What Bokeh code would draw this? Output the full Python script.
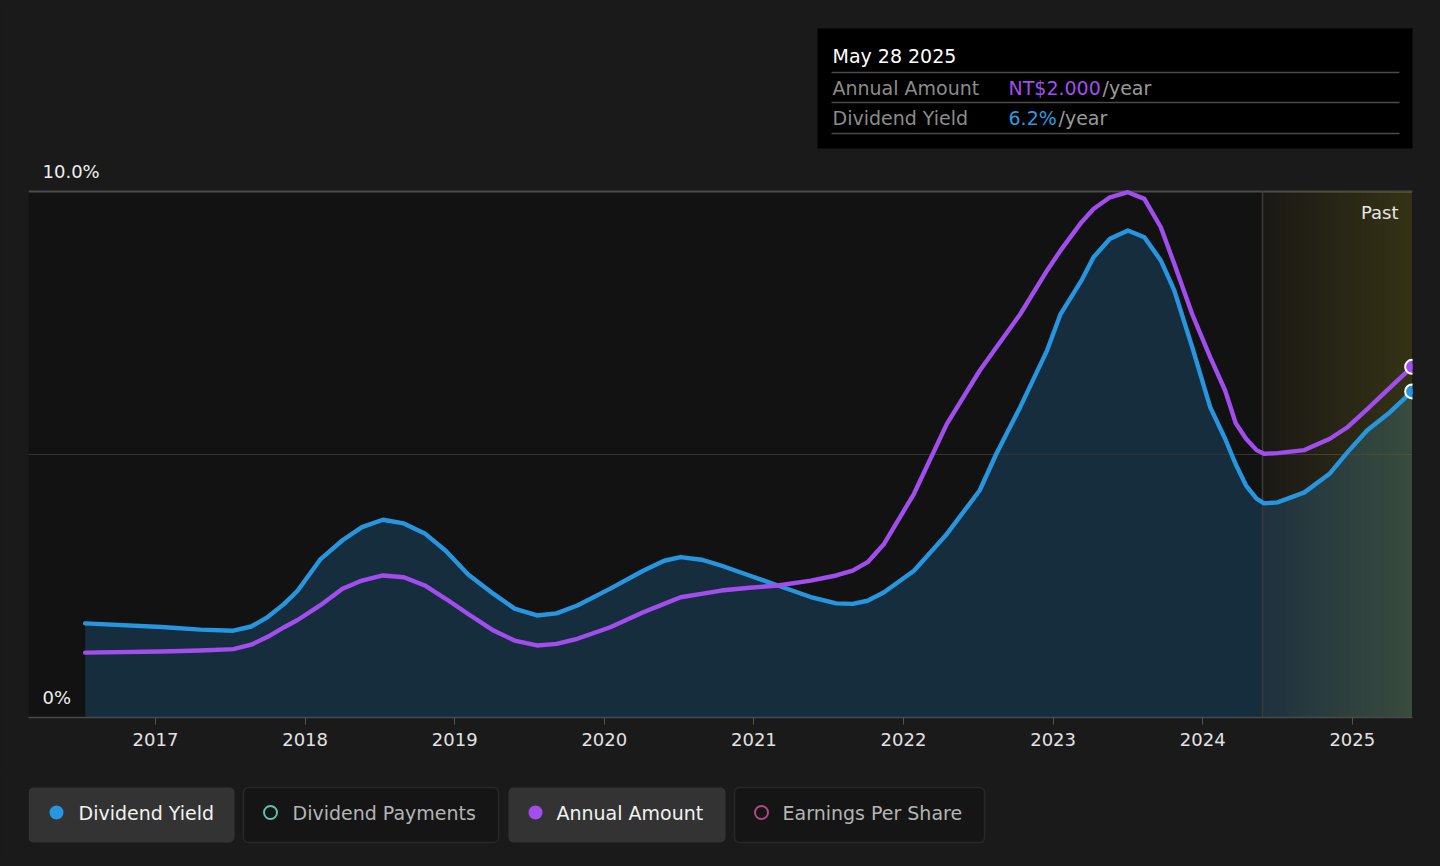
from bokeh.plotting import figure
from bokeh.models import Range1d, FixedTicker, Label, BoxAnnotation, ColumnDataSource
from bokeh.layouts import column
from bokeh.embed import file_html
from bokeh.resources import INLINE

# ---------------- data ----------------
years = [2016.53, 2017.04, 2017.30, 2017.52, 2017.64, 2017.75, 2017.86, 2017.95, 2018.10, 2018.25,
         2018.38, 2018.52, 2018.66, 2018.80, 2018.94, 2019.09, 2019.26, 2019.40, 2019.55, 2019.68,
         2019.82, 2020.04, 2020.26, 2020.40, 2020.51, 2020.65, 2020.78, 2020.97, 2021.16, 2021.38,
         2021.55, 2021.66, 2021.76, 2021.87, 2022.07, 2022.29, 2022.51, 2022.62, 2022.78, 2022.96,
         2023.05, 2023.19, 2023.27, 2023.38, 2023.50, 2023.61, 2023.72, 2023.81, 2023.93, 2024.05,
         2024.15, 2024.22, 2024.29, 2024.36, 2024.41, 2024.50, 2024.68, 2024.85, 2024.97, 2025.10,
         2025.25, 2025.40]
dividend_yield = [1.79, 1.72, 1.67, 1.65, 1.73, 1.91, 2.16, 2.41, 3.00, 3.37,
                  3.62, 3.76, 3.69, 3.50, 3.17, 2.72, 2.35, 2.07, 1.94, 1.98,
                  2.13, 2.45, 2.79, 2.98, 3.05, 3.00, 2.89, 2.70, 2.51, 2.29,
                  2.17, 2.16, 2.22, 2.38, 2.79, 3.49, 4.32, 5.01, 5.90, 6.98,
                  7.67, 8.31, 8.75, 9.10, 9.26, 9.13, 8.69, 8.12, 7.04, 5.90,
                  5.30, 4.82, 4.41, 4.16, 4.07, 4.09, 4.28, 4.64, 5.05, 5.46,
                  5.80, 6.20]
annual_amount = [0.370, 0.376, 0.382, 0.390, 0.415, 0.460, 0.515, 0.556, 0.639, 0.734,
                 0.781, 0.810, 0.800, 0.753, 0.677, 0.590, 0.496, 0.439, 0.411, 0.420,
                 0.449, 0.515, 0.600, 0.648, 0.686, 0.705, 0.724, 0.740, 0.753, 0.781,
                 0.810, 0.838, 0.886, 0.990, 1.276, 1.675, 1.979, 2.110, 2.300, 2.550,
                 2.664, 2.825, 2.900, 2.967, 2.996, 2.958, 2.796, 2.588, 2.300, 2.055,
                 1.865, 1.680, 1.590, 1.525, 1.504, 1.508, 1.525, 1.590, 1.657, 1.759,
                 1.880, 2.000]
tick_years = [2017, 2018, 2019, 2020, 2021, 2022, 2023, 2024, 2025]
y_tick_labels = ["0%", "10.0%"]
legend_labels = ["Dividend Yield", "Dividend Payments", "Annual Amount", "Earnings Per Share"]
tooltip_date = "May 28 2025"
tooltip_keys = ["Annual Amount", "Dividend Yield"]
past_label = "Past"

# ---------------- style ----------------
FONT = "DejaVu Sans"
PAGE_BG = "#1a1a1a"
PLOT_BG = "#121212"
BLUE = "#2796e0"
PURPLE = "#a24ded"
TEAL = "#5fc2ad"
PINK = "#b04a82"
GOLD = "#a2844a"

# pixel geometry of the reference (page pixels, canvas at page origin)
W = 1440
FL, FR = 28, 1412          # frame left/right
FT = 20                    # frame top
Y0PX, PPP = 717, 52.6      # 0% baseline, px per percent
PPY = 149.6                # px per year
XS = 2017 - (155 - FL) / PPY
XE = XS + (FR - FL) / PPY
YMAX = 10.0
Y_END = (Y0PX - FT) / PPP
AMOUNT_MAX = 3.0           # annual amount that reaches the 10% line
H_MAIN = 770
H_LEG = 92


def px2x(px):
    return XS + (px - FL) / PPY


def py2y(py):
    return (Y0PX - py) / PPP


p = figure(width=W, height=H_MAIN, output_backend="svg", toolbar_location=None,
           x_range=Range1d(XS, XE), y_range=Range1d(0, Y_END),
           min_border_left=FL, min_border_right=W - FR,
           min_border_top=FT, min_border_bottom=H_MAIN - Y0PX)
p.extra_y_ranges = {"amount": Range1d(0, AMOUNT_MAX * Y_END / YMAX)}
p.background_fill_color = PAGE_BG
p.border_fill_color = PAGE_BG
p.outline_line_color = None
p.xgrid.visible = False
p.ygrid.visible = False
p.yaxis.visible = False

xa = p.xaxis[0]
xa.ticker = FixedTicker(ticks=tick_years)
xa.axis_line_color = "#4a4a4a"
xa.axis_line_width = 1.5
xa.major_tick_line_color = "#555555"
xa.major_tick_out = 7
xa.major_tick_in = 0
xa.minor_tick_line_color = None
xa.major_label_text_font = FONT
xa.major_label_text_font_size = "18px"
xa.major_label_text_color = "#e2e2e2"
xa.major_label_standoff = 8

# plot area background
p.quad(left=[XS], right=[XE], bottom=[0], top=[YMAX], fill_color=PLOT_BG, line_color=None)

src = ColumnDataSource(dict(x=years, dy=dividend_yield, aa=annual_amount))

# blue area
p.varea(x="x", y1=0, y2="dy", source=src, fill_color="#1f5f8e", fill_alpha=0.36)

# gridlines
p.hspan(y=[YMAX / 2], line_color="#333333", line_width=1.2)
p.hspan(y=[YMAX], line_color="#4a4a4a", line_width=1.8)

# past region (one year before the last date)
last_x = years[-1]
past_start = last_x - 1.0
p.quad(left=[past_start], right=[XE], bottom=[0], top=[YMAX], fill_color=GOLD,
       fill_alpha=0.07, line_color=None)
n = 26
lefts = [past_start + (XE - past_start) * k / n for k in range(1, n)]
p.quad(left=lefts, right=[XE] * len(lefts), bottom=[0] * len(lefts), top=[YMAX] * len(lefts),
       fill_color=GOLD, fill_alpha=0.011, line_color=None)
p.segment(x0=[past_start], y0=[0], x1=[past_start], y1=[YMAX], line_color="#3c3a36", line_width=1.5)

# lines
p.line(x="x", y="dy", source=src, line_color=BLUE, line_width=4.4, line_join="round", line_cap="round")
p.line(x="x", y="aa", source=src, line_color=PURPLE, line_width=4.4, line_join="round",
       line_cap="round", y_range_name="amount")
p.scatter(x=[years[-1]], y=[annual_amount[-1]], size=14, fill_color=PURPLE, line_color="white",
          line_width=2, y_range_name="amount")
p.scatter(x=[years[-1]], y=[dividend_yield[-1]], size=14, fill_color=BLUE, line_color="white",
          line_width=2)

# y labels and "Past"
p.add_layout(Label(x=px2x(42), y=py2y(171), text=y_tick_labels[1], text_font=FONT,
                   text_font_size="18px", text_color="#eeeeee", text_baseline="middle"))
p.add_layout(Label(x=px2x(42), y=py2y(697), text=y_tick_labels[0], text_font=FONT,
                   text_font_size="18px", text_color="#eeeeee", text_baseline="middle"))
p.add_layout(Label(x=px2x(1398), y=py2y(212), text=past_label, text_font=FONT,
                   text_font_size="18px", text_color="#e6e6e6", text_baseline="middle",
                   text_align="right"))

# tooltip box
p.add_layout(BoxAnnotation(left=px2x(817), right=px2x(1413), top=py2y(28), bottom=py2y(148),
                           fill_color="#000000", fill_alpha=1.0, line_color=None))
for sy in (72, 102, 133):
    p.add_layout(BoxAnnotation(left=px2x(831), right=px2x(1399), top=py2y(sy - 0.8),
                               bottom=py2y(sy + 0.8), fill_color="#4a4a4a", fill_alpha=1.0,
                               line_color=None))
TT = dict(text_font=FONT, text_font_size="19px", text_baseline="middle")
p.add_layout(Label(x=px2x(832), y=py2y(55), text=tooltip_date, text_color="#ffffff", **TT))
p.add_layout(Label(x=px2x(832), y=py2y(87), text=tooltip_keys[0], text_color="#8c8c8c", **TT))
p.add_layout(Label(x=px2x(832), y=py2y(117), text=tooltip_keys[1], text_color="#8c8c8c", **TT))
p.add_layout(Label(x=px2x(1008), y=py2y(87), text=f"NT${annual_amount[-1]:.3f}", text_color=PURPLE, **TT))
p.add_layout(Label(x=px2x(1102), y=py2y(87), text="/year", text_color="#9a9a9a", **TT))
p.add_layout(Label(x=px2x(1008), y=py2y(117), text=f"{dividend_yield[-1]:.1f}%", text_color="#2d9be0", **TT))
p.add_layout(Label(x=px2x(1058), y=py2y(117), text="/year", text_color="#9a9a9a", **TT))

# ---------------- legend row (page-pixel coordinates) ----------------
lg = figure(width=W, height=H_LEG, output_backend="svg", toolbar_location=None,
            x_range=Range1d(FL, FR), y_range=Range1d(H_MAIN + H_LEG, H_MAIN),
            min_border_left=FL, min_border_right=W - FR, min_border_top=0, min_border_bottom=0)
lg.background_fill_color = PAGE_BG
lg.border_fill_color = PAGE_BG
lg.outline_line_color = None
lg.axis.visible = False
lg.grid.visible = False

pill_l = [28, 243, 508, 734]
pill_r = [234, 498, 725, 984]
pill_active = [True, False, True, False]
pill_color = [BLUE, TEAL, PURPLE, PINK]
dot_x = [56, 270, 535, 761]
text_x = [78, 292, 556, 782]
for i, lab in enumerate(legend_labels):
    act = pill_active[i]
    lg.add_layout(BoxAnnotation(left=pill_l[i], right=pill_r[i], top=787, bottom=842,
                                fill_color="#333333" if act else "#151515", fill_alpha=1.0,
                                line_color=None if act else "#4e4e4e", line_width=1.5,
                                border_radius=5, level="underlay"))
    if act:
        lg.scatter(x=[dot_x[i]], y=[812], size=14, fill_color=pill_color[i], line_color=None)
    else:
        lg.scatter(x=[dot_x[i]], y=[812], size=13, fill_color=None, line_color=pill_color[i],
                   line_width=2)
    lg.add_layout(Label(x=text_x[i], y=812, text=lab, text_font=FONT, text_font_size="19px",
                        text_color="#f2f2f2" if act else "#b4b4b4", text_baseline="middle"))

layout = column(p, lg, spacing=0)
html = file_html(layout, INLINE)
html = html.replace("</head>", "<style>html,body{margin:0 !important;padding:0 !important;"
                    "background:#1a1a1a !important;overflow:hidden;}</style></head>", 1)
open("out.html", "w").write(html)
